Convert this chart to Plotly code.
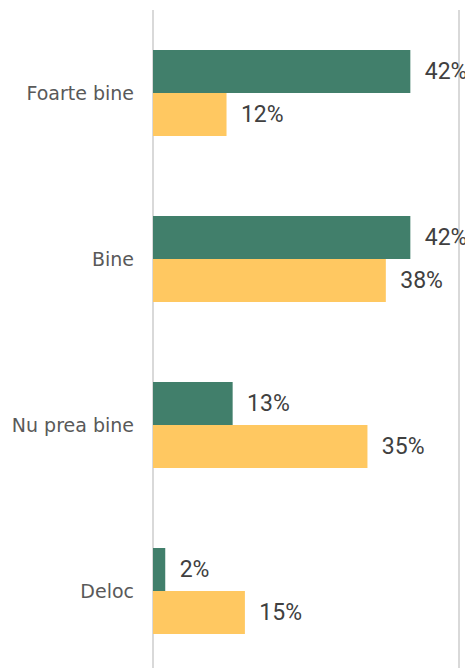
import plotly.graph_objects as go

categories = ["Foarte bine", "Bine", "Nu prea bine", "Deloc"]
series_a = [42, 42, 13, 2]
series_b = [12, 38, 35, 15]
green = "#417F6B"
yellow = "#FFC861"

fig = go.Figure()
for vals, col in [(series_a, green), (series_b, yellow)]:
    fig.add_trace(go.Bar(
        y=categories, x=vals, orientation="h",
        marker=dict(color=col, line=dict(width=0)),
        text=[f"\u00a0\u00a0{v}%" for v in vals],
        textposition="outside", cliponaxis=False, constraintext="none",
        textfont=dict(family="Roboto", size=23, color="#404040"),
        hoverinfo="skip",
    ))

fig.update_layout(
    width=465, height=660,
    margin=dict(l=145, r=2, t=2, b=0),
    barmode="group", bargap=0.482, bargroupgap=0,
    plot_bgcolor="white", paper_bgcolor="white",
    showlegend=False,
    uniformtext=dict(mode=False),
    xaxis=dict(range=[0, 51.9], tickvals=[0, 50], showticklabels=False,
               showgrid=True, gridcolor="#d9d9d9", gridwidth=1.5,
               zeroline=True, zerolinecolor="#d9d9d9", zerolinewidth=1.5,
               showline=False, fixedrange=True),
    yaxis=dict(type="category", range=[3.464, -0.5], showgrid=False,
               ticks="", ticklabelstandoff=18, showline=False,
               tickfont=dict(family="DejaVu Sans", size=19, color="#595959")),
)
fig.write_html("out.html")
